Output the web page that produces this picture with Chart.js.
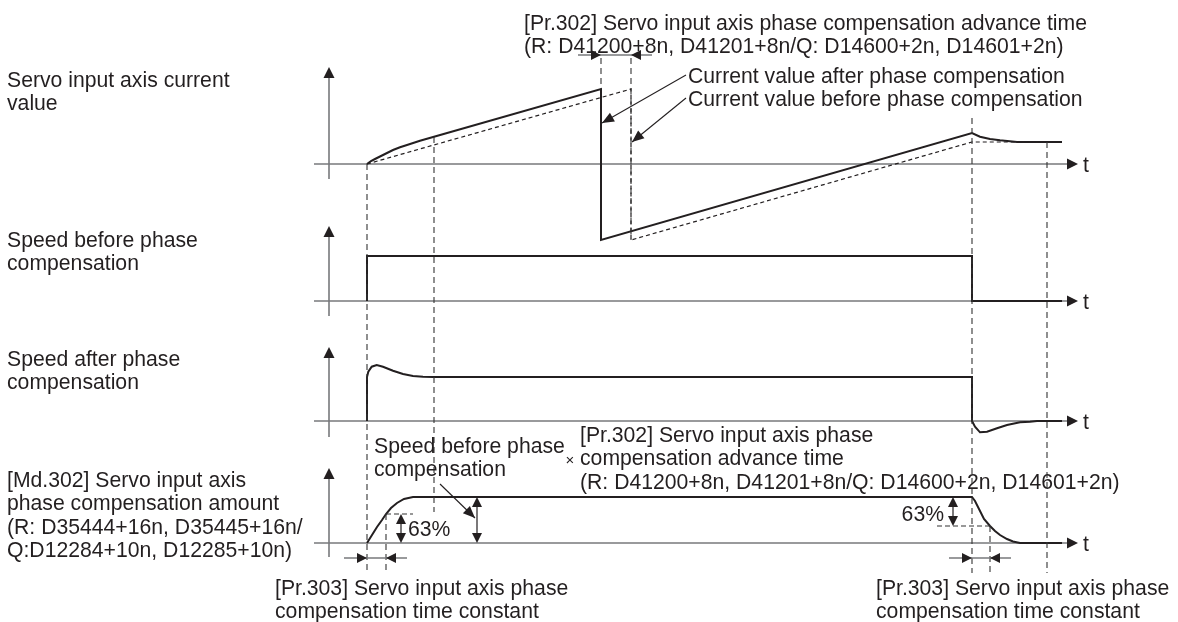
<!DOCTYPE html>
<html><head><meta charset="utf-8">
<script src="https://cdn.jsdelivr.net/npm/chart.js@4"></script>
<style>html,body{margin:0;padding:0;background:#fff}canvas{display:block}</style>
</head><body>
<canvas id="c" width="1178" height="622"></canvas>
<script>
// ---------- DATA (diagram time units / panel value units) ----------
// Key instants
const tStart = 0, tSettle = 67, tAfterJump = 234, tBeforeJump = 264, tStop = 605, tEnd = 680, tConst = 19, tConstStop = 623;

// Panel 1: servo input axis current value
const curBeforeT = [0, 264, 264, 605, 680];
const curBeforeV = [0, 75, -76, 22, 22];
const curAfterT = [0, 4, 8, 13, 20, 26, 33, 40, 53, 67, 234, 234, 605, 613, 623, 633, 650, 695];
const curAfterV = [0, 3, 5, 7.5, 11, 14, 16.7, 19, 23.3, 27.3, 75, -76, 31, 27.3, 25, 23.7, 22, 22];

// Panel 2: speed before phase compensation
const spdBeforeT = [0, 0, 605, 605, 695];
const spdBeforeV = [0, 45, 45, 0, 0];

// Panel 3: speed after phase compensation
const spdAfterT = [0, 0, 1.3, 4.7, 9.7, 16, 26, 36, 46, 56, 66, 605, 605, 608, 613, 620, 630, 640, 653, 663, 670, 695];
const spdAfterV = [0, 44, 49.3, 54.3, 56, 54.3, 50.3, 47, 45, 44.3, 44, 44, 0, -5.7, -11.3, -10.7, -7.3, -4, -1.3, -0.7, 0, 0];

// Panel 4: phase compensation amount
const compT = [0, 5, 10, 15, 19, 24, 30, 37, 46, 605, 608, 612, 617, 623, 628, 633, 640, 646, 653, 695];
const compV = [0, 8, 16, 23, 29, 35, 40, 44, 46, 46, 42, 34, 24, 17, 12, 8, 4, 1.5, 0, 0];

// Text labels
const labelsLeft = [
  ["Servo input axis current", "value"],
  ["Speed before phase", "compensation"],
  ["Speed after phase", "compensation"],
  ["[Md.302] Servo input axis", "phase compensation amount", "(R: D35444+16n, D35445+16n/", "Q:D12284+10n, D12285+10n)"]
];
const advanceTitle = ["[Pr.302] Servo input axis phase compensation advance time", "(R: D41200+8n, D41201+8n/Q: D14600+2n, D14601+2n)"];
const curveLabels = ["Current value after phase compensation", "Current value before phase compensation"];
const speedLabel = ["Speed before phase", "compensation"];
const advanceLabel = ["[Pr.302] Servo input axis phase", "compensation advance time", "(R: D41200+8n, D41201+8n/Q: D14600+2n, D14601+2n)"];
const constLabel = ["[Pr.303] Servo input axis phase", "compensation time constant"];
const pctLabel = "63%";
const axisLabel = "t";

// ---------- LAYOUT ----------
const W = 1178, H = 622;
const X0 = 367;                       // pixel of t = 0
const BASE = [164, 301, 421, 543];    // panel baselines (px)
const INK = '#231f20', GREY = '#77787b';
const FONT = "21.2px 'Liberation Sans', Arial, sans-serif";

const pts = (T, V) => T.map((t, i) => ({x: t, y: V[i]}));
const line = (data, axis, opts) => Object.assign({
  type: 'line', data, yAxisID: axis, borderColor: INK, borderWidth: 2,
  pointRadius: 0, tension: 0, fill: false, order: 1
}, opts || {});

const guideSpecs = [
  [tStart, 164, 573], [tSettle, 137, 512], [tAfterJump, 58, 89], [tBeforeJump, 58, 240],
  [tStop, 118, 573], [tEnd, 142, 573], [tConst, 514, 573], [tConstStop, 526, 573]
];
const hGuideSpecs = [[tConst, 46, 514], [570, tConstStop, 526]];

const datasets = [];
guideSpecs.forEach(g => datasets.push(line([{x: g[0], y: g[1]}, {x: g[0], y: g[2]}], 'yp',
  {borderWidth: 1.1, borderDash: [6, 4], borderColor: '#333'})));
hGuideSpecs.forEach(g => datasets.push(line([{x: g[0], y: g[2]}, {x: g[1], y: g[2]}], 'yp',
  {borderWidth: 1.1, borderDash: [5, 3], borderColor: '#333'})));
datasets.push(line(pts(curBeforeT, curBeforeV), 'y1', {borderWidth: 1.2, borderDash: [4, 3]}));
datasets.push(line(pts(curAfterT, curAfterV), 'y1'));
datasets.push(line(pts(spdBeforeT, spdBeforeV), 'y2'));
datasets.push(line(pts(spdAfterT, spdAfterV), 'y3'));
datasets.push(line(pts(compT, compV), 'y4'));

const yAxis = (base) => ({type: 'linear', display: false, min: base - H, max: base});

// ---------- drawing helpers ----------
function head(ctx, tx, ty, fx, fy, len, hw) {
  const a = Math.atan2(ty - fy, tx - fx);
  ctx.beginPath();
  ctx.moveTo(tx, ty);
  ctx.lineTo(tx - len * Math.cos(a) + hw * Math.sin(a), ty - len * Math.sin(a) - hw * Math.cos(a));
  ctx.lineTo(tx - len * Math.cos(a) - hw * Math.sin(a), ty - len * Math.sin(a) + hw * Math.cos(a));
  ctx.closePath();
  ctx.fill();
}
function seg(ctx, x1, y1, x2, y2, color, w) {
  ctx.strokeStyle = color; ctx.lineWidth = w;
  ctx.beginPath(); ctx.moveTo(x1, y1); ctx.lineTo(x2, y2); ctx.stroke();
}

const decor = {
  id: 'decor',
  beforeDatasetsDraw(chart) {
    const ctx = chart.ctx, xs = chart.scales.x;
    const px = t => xs.getPixelForValue(t);
    ctx.save();
    ctx.fillStyle = INK;
    const ytop = [97, 75, 74, 75], ybot = [15, 15, 16, 14];
    BASE.forEach((b, i) => {
      seg(ctx, px(-53), b, px(700), b, GREY, 1.6);
      head(ctx, px(711), b, px(700), b, 11, 5.5);
      seg(ctx, px(-38), b + ybot[i], px(-38), b - ytop[i] + 9, GREY, 1.6);
      head(ctx, px(-38), b - ytop[i], px(-38), b - ytop[i] + 10, 11, 5.5);
    });
    ctx.restore();
  },
  afterDatasetsDraw(chart) {
    const ctx = chart.ctx, xs = chart.scales.x;
    const px = t => xs.getPixelForValue(t);
    ctx.save();
    ctx.fillStyle = INK;
    const dims = [[55, tAfterJump, tBeforeJump], [558, tStart, tConst], [558, tStop, tConstStop]];
    dims.forEach(d => {
      const a = px(d[1]), b = px(d[2]);
      seg(ctx, a - 23, d[0], b + 21, d[0], GREY, 1.4);
      head(ctx, a, d[0], a - 10, d[0], 10, 5);
      head(ctx, b, d[0], b + 10, d[0], 10, 5);
    });
    const vd = [[34, 514, 543], [110, 497, 543], [586, 497, 526]];
    vd.forEach(d => {
      const x = px(d[0]);
      seg(ctx, x, d[1] + 4, x, d[2] - 4, INK, 1.2);
      head(ctx, x, d[1], x, d[1] + 10, 10, 5);
      head(ctx, x, d[2], x, d[2] - 10, 10, 5);
    });
    const pl = [[686, 75, 602, 123], [686, 98, 632, 142], [440, 484, 475, 518]];
    pl.forEach(p => {
      seg(ctx, p[0], p[1], p[2], p[3], INK, 1.1);
      head(ctx, p[2], p[3], p[0], p[1], 12, 5);
    });
    ctx.font = FONT; ctx.fillStyle = INK; ctx.textBaseline = 'alphabetic'; ctx.textAlign = 'left';
    const lh = 23.3;
    const block = (lines, x, y) => lines.forEach((s, i) => ctx.fillText(s, x, y + i * lh));
    block(labelsLeft[0], 7, 87);
    block(labelsLeft[1], 7, 247);
    block(labelsLeft[2], 7, 366);
    block(labelsLeft[3], 7, 487);
    block(advanceTitle, 524, 30);
    block(curveLabels, 688, 83);
    block(speedLabel, 374, 453);
    block(advanceLabel, 580, 442);
    block(constLabel, 275, 595);
    block(constLabel, 876, 595);
    ctx.fillText(pctLabel, 408, 536);
    ctx.textAlign = 'right';
    ctx.fillText(pctLabel, 944, 521);
    ctx.textAlign = 'left';
    BASE.forEach(b => ctx.fillText(axisLabel, 1083, b + 8));
    ctx.font = "15px 'Liberation Sans', Arial, sans-serif";
    ctx.textAlign = 'center'; ctx.textBaseline = 'middle';
    ctx.fillText('\u00d7', 570, 461);
    ctx.restore();
  }
};

new Chart(document.getElementById('c'), {
  type: 'scatter',
  data: {datasets},
  options: {
    responsive: false, animation: false, devicePixelRatio: 1,
    layout: {padding: 0},
    plugins: {legend: {display: false}, tooltip: {enabled: false}},
    scales: {
      x: {type: 'linear', display: false, min: -X0, max: W - X0},
      yp: {type: 'linear', display: false, min: 0, max: H, reverse: true},
      y1: yAxis(BASE[0]), y2: yAxis(BASE[1]), y3: yAxis(BASE[2]), y4: yAxis(BASE[3])
    }
  },
  plugins: [decor]
});
</script>
</body></html>
